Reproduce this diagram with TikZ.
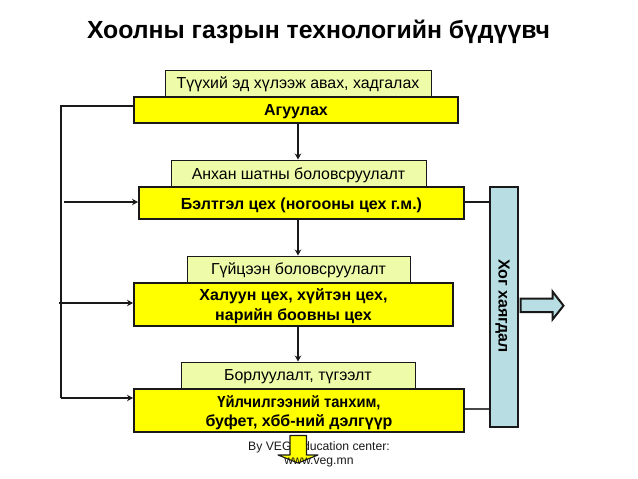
\documentclass[tikz,border=0pt]{standalone}
\usepackage{graphicx}
\usepackage{fontspec}
\setmainfont{Liberation Sans}
\usetikzlibrary{arrows.meta}
\definecolor{paleY}{RGB}{238,252,170}
\definecolor{yel}{RGB}{255,255,0}
\definecolor{blu}{RGB}{184,222,228}
\definecolor{ink}{RGB}{25,25,25}
\tikzset{
  boxbase/.style={draw=ink,anchor=north west,inner sep=0pt},
  pale/.style={boxbase,fill=paleY,line width=1pt},
  main/.style={boxbase,fill=yel,line width=2pt},
  palelabel/.style={font=\fontsize{15.9}{19}\selectfont,yshift=-1.5pt},
  mainlabel/.style={align=center,font=\bfseries\fontsize{16}{19.5}\selectfont,yshift=-2.3pt},
  conn/.style={draw=ink,line width=2pt},
  arr/.style={conn,-{Stealth[length=6pt,width=6.5pt]}}
}
\begin{document}
\begin{tikzpicture}[x=1pt,y=-1pt]
\useasboundingbox (0,0) rectangle (638,479);
\node[font=\bfseries\fontsize{24.8}{28}\selectfont,text=black] (title) at (318.5,32) {Хоолны газрын технологийн бүдүүвч};
% pale boxes
\node[pale,minimum width=266pt,minimum height=26pt] (p1) at (164.5,69.5) {};
\node[pale,minimum width=255pt,minimum height=27pt] (p2) at (170.5,159.5) {};
\node[pale,minimum width=223pt,minimum height=26pt] (p3) at (186.5,255.5) {};
\node[pale,minimum width=234pt,minimum height=27pt] (p4) at (180.5,361.5) {};
\node[palelabel] (p1t) at (p1) {Түүхий эд хүлээж авах, хадгалах};
\node[palelabel] (p2t) at (p2) {Анхан шатны боловсруулалт};
\node[palelabel] (p3t) at (p3) {Гүйцээн боловсруулалт};
\node[palelabel] (p4t) at (p4) {Борлуулалт, түгээлт};
% main boxes
\node[main,minimum width=324pt,minimum height=26.5pt] (m1) at (133,95.5) {};
\node[main,minimum width=325pt,minimum height=31.5pt] (m2) at (138,186) {};
\node[main,minimum width=319pt,minimum height=43pt] (m3) at (133,281.5) {};
\node[main,minimum width=330pt,minimum height=42.5pt] (m4) at (133,388) {};
\node[mainlabel] (m1t) at (m1) {Агуулах};
\node[mainlabel] (m2t) at (m2) {Бэлтгэл цех (ногооны цех г.м.)};
\node[mainlabel] (m3t) at (m3) {Халуун цех, хүйтэн цех,\\нарийн боовны цех};
\node[mainlabel] (m4t) at (m4) {\scalebox{0.92}[1]{Үйлчилгээний танхим,}\\буфет, хбб-ний дэлгүүр};
% waste bar
\node[boxbase,fill=blu,line width=2pt,minimum width=27.5pt,minimum height=239.5pt] (w) at (489,186) {};
\node[rotate=-90,font=\bfseries\fontsize{16}{19}\selectfont] (wt) at (502.5,306) {Хог хаягдал};
% left bus
\coordinate (bt) at (60.5,106);
\coordinate (bb) at (60.5,398);
\coordinate (b2) at (64,202);
\coordinate (b3) at (59,303);
\draw[conn] (m1.west|-bt) -- (bt) -- (bb);
\draw[arr] (bb) -- (m4.west|-bb);
\draw[arr] (b2) -- (m2.west|-b2);
\draw[arr] (b3) -- (m3.west|-b3);
% vertical arrows
\coordinate (vx) at (298,0);
\draw[arr] (vx|-m1.south) -- (vx|-p2.north);
\draw[arr] (vx|-m2.south) -- (vx|-p3.north);
\draw[arr] (vx|-m3.south) -- (vx|-p4.north);
% connectors to the bar
\coordinate (r2) at (0,201.7);
\coordinate (r4) at (0,409);
\draw[conn] (m2.east|-r2) -- (w.west|-r2);
\draw[conn,draw=ink!80,line width=1.5pt] (m4.east|-r4) -- (w.west|-r4);
% credit
\node[font=\fontsize{12.2}{15}\selectfont,text=ink] (c1) at (319,447) {By VEG Education center:};
% down arrow
\draw[fill=yel,draw=ink,line width=1.1pt,line join=round] (290,435.5) -- (306.5,435.5) -- (306.5,455) -- (318,455) -- (298,463) -- (278,455) -- (290,455) -- cycle;
\node[font=\fontsize{12.2}{15}\selectfont,text=ink] (c2) at (319,462.5) {www.veg.mn};
% out arrow
\draw[fill=blu,draw=ink,line width=2pt] (520.5,298.5) -- (552.5,298.5) -- (552.5,291.5) -- (563.5,305.7) -- (552.5,319.5) -- (552.5,312) -- (520.5,312) -- cycle;
\end{tikzpicture}
\end{document}
